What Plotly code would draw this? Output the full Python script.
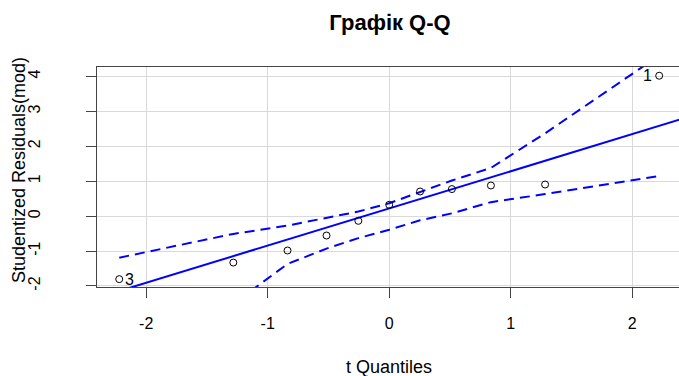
import plotly.graph_objects as go

# ---- data ----
t_quantiles = [-2.222, -1.283, -0.837, -0.516, -0.254, 0.0, 0.254, 0.516, 0.837, 1.283, 2.222]
stud_resid = [-1.805, -1.33, -0.985, -0.556, -0.135, 0.324, 0.705, 0.774, 0.877, 0.905, 4.02]
upper_env = [-1.19, -0.51, -0.27, -0.04, 0.13, 0.37, 0.70, 1.02, 1.38, 2.37, 4.60]
lower_env = [-5.50, -2.51, -1.37, -0.93, -0.63, -0.39, -0.12, 0.08, 0.40, 0.63, 1.15]
ref_line_x = [-2.45, 2.45]
ref_line_y = [-2.387, 2.827]
point_ids = ["3", "1"]
point_id_index = [0, 10]

x_ticks = [-2, -1, 0, 1, 2]
y_ticks = [-2, -1, 0, 1, 2, 3, 4]

W, H = 679, 376
ML, MR, MT, MB = 97, 0, 67, 89
PW, PH = W - ML - MR, H - MT - MB

FONT = "Liberation Sans, Arial, sans-serif"
BLUE = "#0000FF"

fig = go.Figure()

fig.add_trace(go.Scatter(x=t_quantiles, y=upper_env, mode="lines",
                         line=dict(color=BLUE, width=2, dash="10px,6px"),
                         hoverinfo="skip", showlegend=False))
fig.add_trace(go.Scatter(x=t_quantiles, y=lower_env, mode="lines",
                         line=dict(color=BLUE, width=2, dash="10px,6px"),
                         hoverinfo="skip", showlegend=False))
fig.add_trace(go.Scatter(x=ref_line_x, y=ref_line_y, mode="lines",
                         line=dict(color=BLUE, width=2),
                         hoverinfo="skip", showlegend=False))
fig.add_trace(go.Scatter(x=t_quantiles, y=stud_resid, mode="markers",
                         marker=dict(symbol="circle-open", size=7, color="black",
                                     line=dict(width=1, color="black")),
                         showlegend=False))

annotations = []
for lab, idx in zip(point_ids, point_id_index):
    right = t_quantiles[idx] < 0
    annotations.append(dict(
        x=t_quantiles[idx], y=stud_resid[idx], text=lab, showarrow=False,
        xanchor="left" if right else "right", yanchor="middle",
        xshift=4 if right else -5,
        font=dict(family=FONT, size=16, color="black")))

# axis titles as paper annotations
annotations.append(dict(
    x=(389 - ML) / PW, y=(MT + PH - 367) / PH, xref="paper", yref="paper",
    text="t Quantiles", showarrow=False, xanchor="center", yanchor="middle",
    font=dict(family=FONT, size=18, color="black")))
annotations.append(dict(
    x=(19 - ML) / PW, y=(MT + PH - 170) / PH, xref="paper", yref="paper",
    text="Studentized Residuals(mod)", showarrow=False, textangle=-90,
    xanchor="center", yanchor="middle",
    font=dict(family=FONT, size=18, color="black")))

fig.update_layout(
    width=W, height=H,
    margin=dict(l=ML, r=MR, t=MT, b=MB),
    paper_bgcolor="white", plot_bgcolor="white",
    title=dict(text="<b>Графік Q-Q</b>", x=(390) / W, xanchor="center",
               y=1 - 22 / H, yanchor="middle", xref="container", yref="container",
               font=dict(family=FONT, size=22, color="black")),
    annotations=annotations,
    showlegend=False,
)

fig.update_xaxes(range=[-2.405, 2.385], tickvals=x_ticks, ticktext=[str(v) for v in x_ticks],
                 showgrid=True, gridcolor="#D9D9D9", gridwidth=1, zeroline=False,
                 showline=True, linecolor="#444444", linewidth=1, mirror=True,
                 ticks="outside", ticklen=10, tickcolor="#444444",
                 ticklabelstandoff=12,
                 tickfont=dict(family=FONT, size=16, color="black"))
fig.update_yaxes(range=[-2.03, 4.27], tickvals=y_ticks, ticktext=[str(v) for v in y_ticks],
                 showgrid=True, gridcolor="#D9D9D9", gridwidth=1, zeroline=False,
                 showline=True, linecolor="#444444", linewidth=1, mirror=False,
                 ticks="outside", ticklen=10, tickcolor="#444444", tickangle=-90,
                 ticklabelstandoff=40,
                 tickfont=dict(family=FONT, size=16, color="black"))

fig.write_html("out.html", config={"displayModeBar": False},
               post_script="document.body.style.margin='0';")
